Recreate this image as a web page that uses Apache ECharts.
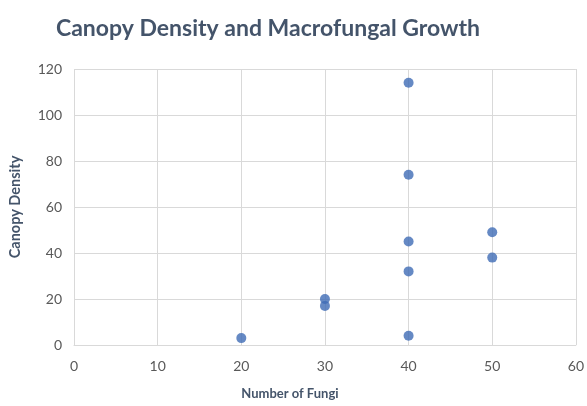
<!DOCTYPE html>
<html>
<head>
<meta charset="utf-8">
<script src="https://cdn.jsdelivr.net/npm/echarts@6/dist/echarts.min.js"></script>
<style>
  html, body { margin: 0; padding: 0; background: #fff; }
  #chart { width: 587px; height: 406px; }
</style>
</head>
<body>
<div id="chart"></div>
<script>
// values
const fungiCount = [20, 30, 30, 40, 40, 40, 40, 40, 50, 50]
const canopyDensity = [3, 20, 17, 114, 74, 45, 32, 4, 49, 38]

const xTicks = { min: 0, max: 60, interval: 10 }
const yTicks = { min: 0, max: 120, interval: 20 }

const points = fungiCount.map((x, i) => [x, canopyDensity[i]])

const myChart = echarts.init(document.getElementById('chart'))
myChart.setOption({
    animation: false,
    title: {
        text: 'Canopy Density and Macrofungal Growth',
        left: 263,
        textAlign: 'center',
        top: 12,
        textStyle: {
            fontFamily: 'Lato',
            fontWeight: 'bold',
            fontSize: 23,
            color: '#44546A'
        }
    },
    grid: {
        left: 72,
        right: 8,
        top: 69,
        bottom: 61
    },
    xAxis: {
        type: 'value',
        min: xTicks.min,
        max: xTicks.max,
        interval: xTicks.interval,
        name: 'Number of Fungi',
        nameLocation: 'middle',
        nameGap: 42,
        nameTextStyle: {
            fontFamily: 'Lato',
            fontWeight: 'bold',
            fontSize: 13,
            color: '#44546A',
            padding: [0, 70, 0, 0]
        },
        axisLine: { show: true, lineStyle: { color: '#D9D9D9' } },
        axisTick: { show: false },
        axisLabel: { color: '#595959', fontFamily: 'Lato', fontSize: 14, margin: 14 },
        splitLine: { show: true, lineStyle: { color: '#D9D9D9' } }
    },
    yAxis: {
        type: 'value',
        min: yTicks.min,
        max: yTicks.max,
        interval: yTicks.interval,
        name: 'Canopy Density',
        nameLocation: 'middle',
        nameGap: 51,
        nameTextStyle: {
            fontFamily: 'Lato',
            fontWeight: 'bold',
            fontSize: 14.5,
            color: '#44546A'
        },
        axisLine: { show: false },
        axisTick: { show: false },
        axisLabel: { color: '#595959', fontFamily: 'Lato', fontSize: 14, margin: 12 },
        splitLine: { show: true, lineStyle: { color: '#D9D9D9' } }
    },
    series: [
        {
            type: 'scatter',
            symbol: 'circle',
            symbolSize: 10,
            itemStyle: { color: '#3F6CB5' },
            data: points
        }
    ]
})
</script>
</body>
</html>
